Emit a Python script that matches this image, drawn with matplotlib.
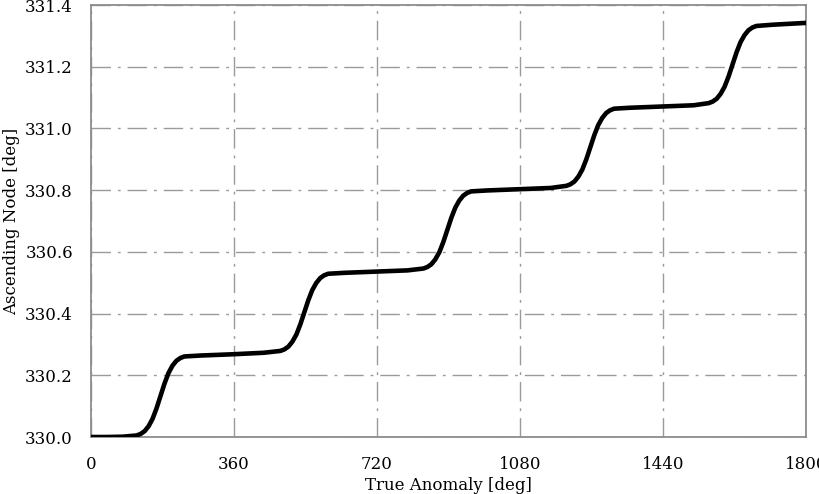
import matplotlib.pyplot as plt

# true anomaly [deg] and ascending node [deg]
true_anomaly = [0, 40, 80,
                115, 125, 135, 145, 155, 165, 175, 185, 195, 205, 215, 225, 235,
                275, 355, 435,
                477, 487, 497, 507, 517, 527, 537, 547, 557, 567, 577, 587, 597,
                637, 717, 797,
                837, 847, 857, 867, 877, 887, 897, 907, 917, 927, 937, 947, 957,
                997, 1077, 1157,
                1197, 1207, 1217, 1227, 1237, 1247, 1257, 1267, 1277, 1287, 1297, 1307, 1317,
                1357, 1437, 1517,
                1555, 1565, 1575, 1585, 1595, 1605, 1615, 1625, 1635, 1645, 1655, 1665, 1675,
                1715, 1800]
asc_node = [330.000, 330.000, 330.001,
            330.005, 330.010, 330.019, 330.035, 330.059, 330.093, 330.133,
            330.173, 330.207, 330.231, 330.247, 330.256, 330.261,
            330.264, 330.268, 330.273,
            330.279, 330.284, 330.293, 330.309, 330.332, 330.365, 330.404,
            330.443, 330.476, 330.499, 330.515, 330.524, 330.529,
            330.532, 330.536, 330.540,
            330.546, 330.551, 330.560, 330.576, 330.599, 330.632, 330.671,
            330.710, 330.743, 330.766, 330.782, 330.791, 330.796,
            330.799, 330.803, 330.807,
            330.814, 330.819, 330.828, 330.844, 330.867, 330.900, 330.939,
            330.978, 331.011, 331.034, 331.050, 331.059, 331.064,
            331.067, 331.071, 331.075,
            331.082, 331.087, 331.096, 331.112, 331.135, 331.168, 331.207,
            331.246, 331.279, 331.302, 331.318, 331.327, 331.332,
            331.336, 331.342]

x_ticks = [0, 360, 720, 1080, 1440, 1800]
y_ticks = [330.0, 330.2, 330.4, 330.6, 330.8, 331.0, 331.2, 331.4]

plt.rcParams['font.family'] = ['DejaVu Serif']
plt.rcParams['font.size'] = 12

fig = plt.figure(figsize=(8.2, 4.94), dpi=100)
ax = fig.add_axes([91 / 820, 1 - 437 / 494, 715 / 820, 432 / 494])

ax.plot(true_anomaly, asc_node, color='black', lw=3.3, solid_capstyle='round',
        solid_joinstyle='round', zorder=3)

ax.set_xlim(0, 1800)
ax.set_ylim(330.0, 331.4)
ax.set_xticks(x_ticks)
ax.set_yticks(y_ticks)
ax.set_yticklabels([f'{v:.1f}' for v in y_ticks])
ax.tick_params(length=0, pad=14, colors='black')
ax.tick_params(axis='y', pad=13)

ax.grid(True, color='#9a9a9a', lw=1.0, dashes=(14, 5, 2, 5))
ax.set_axisbelow(True)
for s in ax.spines.values():
    s.set_color('#8c8c8c')
    s.set_linewidth(1.3)

ax.set_xlabel('True Anomaly [deg]', labelpad=2.5)
ax.set_ylabel('Ascending Node [deg]', labelpad=4)

fig.savefig('out.png', dpi=100)
